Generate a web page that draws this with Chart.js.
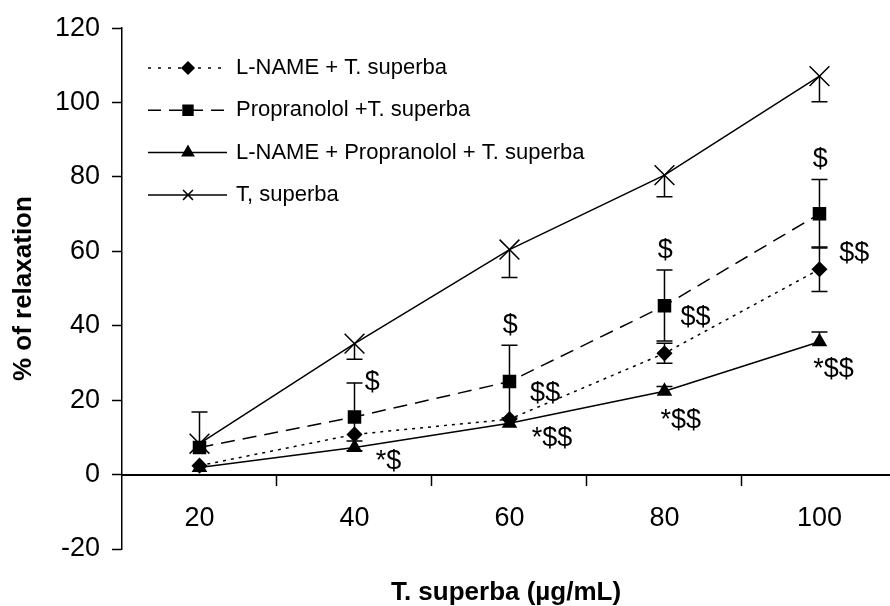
<!DOCTYPE html>
<html>
<head>
<meta charset="utf-8">
<script src="https://cdn.jsdelivr.net/npm/chart.js@4.4.1/dist/chart.umd.min.js"></script>
<style>
  html, body { margin: 0; padding: 0; background: #fff; }
</style>
</head>
<body>
<canvas id="chart" width="890" height="606"></canvas>
<script>
// doses (µg/mL) and % relaxation per treatment
const doses = [20, 40, 60, 80, 100];

const lname = [2.4, 10.8, 14.9, 32.6, 55.2];
const lnameErrUp = [0, 0, 0, 2.7, 6.0];
const lnameErrDown = [0, 0, 0, 2.7, 6.0];

const propranolol = [7.3, 15.5, 25.0, 45.4, 70.1];
const propErrUp = [0, 9.1, 9.8, 9.6, 9.2];
const propErrDown = [0, 9.1, 9.8, 9.5, 9.2];

const lnameProp = [1.9, 7.3, 13.8, 22.4, 35.7];
const lnamePropErrUp = [0, 1.7, 0, 1.3, 2.6];
const lnamePropErrDown = [0, 0, 0, 0, 0];

const superba = [8.3, 35.2, 60.5, 80.5, 107.1];
const superbaErrUp = [8.5, 0, 0, 0, 0];
const superbaErrDown = [0, 4.2, 7.5, 5.8, 6.9];

const yTicks = [-20, 0, 20, 40, 60, 80, 100, 120];
const xTicks = [20, 30, 40, 50, 60, 70, 80, 90, 100];

// significance marks: [x, y, text] in data units
const notes = [
    [42.3, 24.8, '$'], [44.4, 3.5, '*$'],
    [60.1, 40.2, '$'], [64.6, 21.8, '$$'], [65.5, 9.6, '*$$'],
    [80.1, 60.2, '$'], [84.0, 42.3, '$$'], [82.1, 14.6, '*$$'],
    [100.1, 84.6, '$'], [104.5, 59.4, '$$'], [101.8, 28.2, '*$$']
];

const FONT = '"Liberation Sans", Arial, sans-serif';
Chart.defaults.font.family = FONT;
Chart.defaults.color = '#000';

function points(values) {
    return doses.map((d, i) => ({ x: d, y: values[i] }));
}

const datasets = [
    {
        label: 'L-NAME + T. superba',
        data: points(lname), errUp: lnameErrUp, errDown: lnameErrDown,
        borderDash: [3, 5], legendDash: [3, 7],
        pointStyle: 'rectRot', pointRadius: 7, legendRadius: 6
    },
    {
        label: 'Propranolol +T. superba',
        data: points(propranolol), errUp: propErrUp, errDown: propErrDown,
        borderDash: [14, 8], legendDash: [13, 8],
        pointStyle: 'rect', pointRadius: 8.5, legendRadius: 7
    },
    {
        label: 'L-NAME + Propranolol + T. superba',
        data: points(lnameProp), errUp: lnamePropErrUp, errDown: lnamePropErrDown,
        borderDash: [], legendDash: [],
        pointStyle: 'triangle', pointRadius: 7.5, legendRadius: 6.5
    },
    {
        label: 'T, superba',
        data: points(superba), errUp: superbaErrUp, errDown: superbaErrDown,
        borderDash: [], legendDash: [],
        pointStyle: 'crossRot', pointRadius: 14, legendRadius: 7
    }
].map(ds => Object.assign({
    borderColor: '#000', backgroundColor: '#000',
    pointBorderColor: '#000', pointBackgroundColor: '#000',
    borderWidth: 1.5, pointBorderWidth: 1.5, tension: 0, fill: false
}, ds));

// error bars drawn with the chart's own scales
const errorBars = {
    id: 'errorBars',
    beforeDatasetsDraw(chart) {
        const { ctx, scales: { x, y } } = chart;
        ctx.save();
        ctx.strokeStyle = '#000';
        ctx.lineWidth = 1.5;
        chart.data.datasets.forEach(ds => {
            ds.data.forEach((p, i) => {
                const px = x.getPixelForValue(p.x);
                const py = y.getPixelForValue(p.y);
                [[ds.errUp[i], 1], [ds.errDown[i], -1]].forEach(([e, dir]) => {
                    if (!e) return;
                    const end = y.getPixelForValue(p.y + dir * e);
                    ctx.beginPath();
                    ctx.moveTo(px, py);
                    ctx.lineTo(px, end);
                    ctx.moveTo(px - 8, end);
                    ctx.lineTo(px + 8, end);
                    ctx.stroke();
                });
            });
        });
        ctx.restore();
    }
};

const marks = {
    id: 'marks',
    afterDatasetsDraw(chart) {
        const { ctx, scales: { x, y } } = chart;
        ctx.save();
        ctx.fillStyle = '#000';
        ctx.font = '27px ' + FONT;
        ctx.textAlign = 'center';
        ctx.textBaseline = 'middle';
        notes.forEach(([nx, ny, t]) => {
            ctx.fillText(t, x.getPixelForValue(nx), y.getPixelForValue(ny));
        });
        ctx.restore();
    }
};

// legend sits inside the plot, top left
const insideLegend = {
    id: 'insideLegend',
    afterDraw(chart) {
        const ctx = chart.ctx;
        chart.data.datasets.forEach((ds, i) => {
            const ly = 68 + i * 42.3;
            ctx.save();
            ctx.strokeStyle = '#000';
            ctx.fillStyle = '#000';
            ctx.lineWidth = 1.5;
            ctx.setLineDash(ds.legendDash);
            ctx.beginPath();
            ctx.moveTo(148, ly);
            ctx.lineTo(227, ly);
            ctx.stroke();
            ctx.setLineDash([]);
            Chart.helpers.drawPoint(ctx, {
                pointStyle: ds.pointStyle, radius: ds.legendRadius, borderWidth: 1.5, rotation: 0
            }, 188, ly);
            ctx.font = '22px ' + FONT;
            ctx.textBaseline = 'middle';
            ctx.fillText(ds.label, 236, ly);
            ctx.restore();
        });
    }
};

new Chart(document.getElementById('chart'), {
    type: 'line',
    data: { datasets: datasets },
    plugins: [errorBars, marks, insideLegend],
    options: {
        responsive: false,
        animation: false,
        layout: { autoPadding: false, padding: { top: 23, right: 0, left: 0, bottom: 0 } },
        plugins: {
            legend: { display: false },
            tooltip: { enabled: false },
            title: {
                display: true,
                position: 'bottom',
                fullSize: false,
                text: 'T. superba (µg/mL)',
                color: '#000',
                font: { size: 26, weight: 'bold', lineHeight: 1 },
                padding: { top: 31, bottom: 0 }
            }
        },
        scales: {
            x: {
                type: 'linear',
                min: 10,
                max: 109.1,
                position: { y: 0 },
                afterBuildTicks: s => { s.ticks = xTicks.map(v => ({ value: v })); },
                afterFit: s => { s.paddingLeft = 0; s.paddingRight = 0; },
                ticks: {
                    autoSkip: false,
                    maxRotation: 0,
                    padding: 18,
                    font: { size: 27 },
                    callback: v => doses.includes(v) ? v : ''
                },
                grid: {
                    drawOnChartArea: false,
                    tickLength: 10,
                    tickWidth: 1.5,
                    tickColor: c => (c.tick && doses.includes(c.tick.value)) ? 'rgba(0,0,0,0)' : '#000'
                },
                border: { color: '#000', width: 2 }
            },
            y: {
                min: -20,
                max: 120,
                afterBuildTicks: s => { s.ticks = yTicks.map(v => ({ value: v })); },
                afterFit: s => { s.width = 122; },
                ticks: { padding: 12, font: { size: 27 } },
                grid: { drawOnChartArea: false, tickLength: 10, tickWidth: 1.5, tickColor: '#000' },
                border: { color: '#000', width: 1.5 },
                title: {
                    display: true,
                    text: '% of relaxation',
                    color: '#000',
                    font: { size: 26, weight: 'bold' },
                    padding: { top: 8, bottom: 0 }
                }
            }
        }
    }
});
</script>
</body>
</html>
